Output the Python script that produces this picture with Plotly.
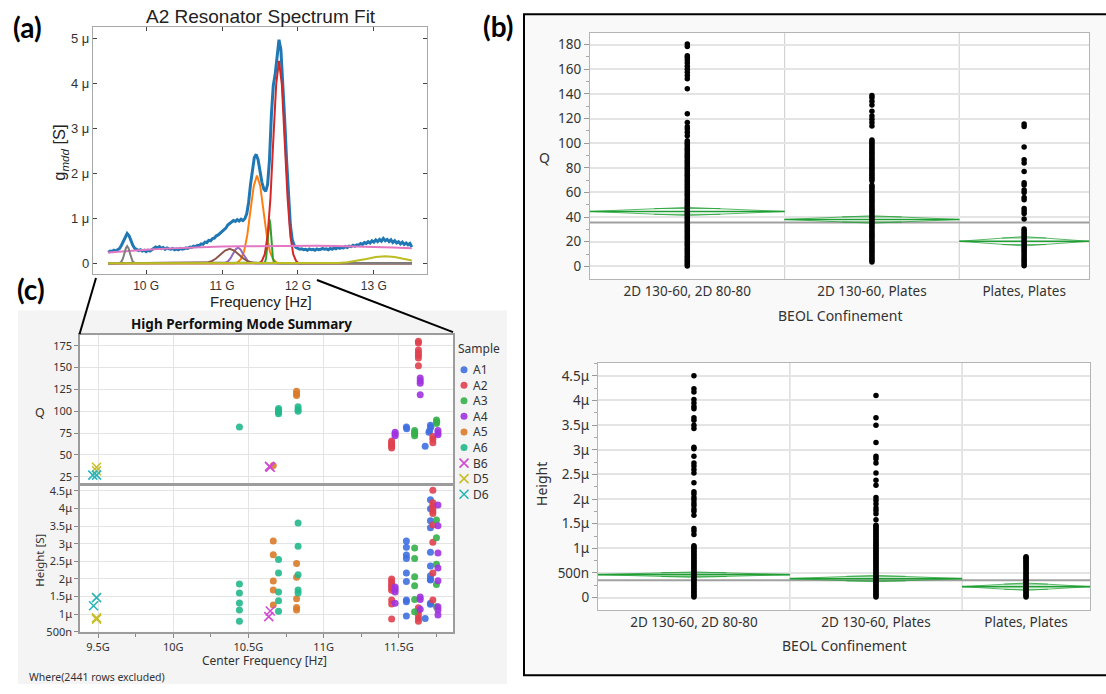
import plotly.graph_objects as go

FIG_W, FIG_H = 1106, 694


def fx(px):
    return px / FIG_W


def fy(py):
    return 1 - py / FIG_H


# ---------------- (a) A2 resonator spectrum and fit components ----------------
spec_freq_ghz = [round(9.5 + 0.025 * i, 3) for i in range(161)]
spec_g_mdd_u = [
    0.24, 0.27, 0.26, 0.29, 0.27, 0.30, 0.33, 0.40, 0.50, 0.60,
    0.66, 0.61, 0.50, 0.40, 0.33, 0.30, 0.28, 0.30, 0.27, 0.29,
    0.26, 0.29, 0.27, 0.30, 0.33, 0.36, 0.34, 0.37, 0.33, 0.35,
    0.31, 0.34, 0.32, 0.31, 0.33, 0.30, 0.32, 0.30, 0.33, 0.31,
    0.32, 0.34, 0.33, 0.36, 0.35, 0.38, 0.37, 0.40, 0.39, 0.43,
    0.42, 0.47, 0.46, 0.51, 0.50, 0.55, 0.56, 0.61, 0.63, 0.67,
    0.70, 0.75, 0.78, 0.85, 0.88, 0.92, 0.95, 0.93, 0.97, 0.94,
    0.98, 0.95, 0.99, 1.10, 1.35, 1.75, 2.10, 2.35, 2.42, 2.30,
    2.05, 1.80, 1.65, 1.60, 1.75, 2.30, 3.30, 3.95, 4.20, 4.65,
    4.97, 4.75, 4.05, 3.20, 2.30, 1.45, 0.85, 0.52, 0.40, 0.35,
    0.33, 0.31, 0.32, 0.30, 0.31, 0.29, 0.32, 0.30, 0.31, 0.29,
    0.32, 0.30, 0.31, 0.33, 0.31, 0.32, 0.30, 0.33, 0.31, 0.34,
    0.32, 0.35, 0.33, 0.35, 0.34, 0.37, 0.35, 0.38, 0.37, 0.40,
    0.38, 0.41, 0.40, 0.44, 0.42, 0.46, 0.44, 0.48, 0.45, 0.50,
    0.47, 0.52, 0.48, 0.53, 0.49, 0.55, 0.50, 0.53, 0.48, 0.52,
    0.46, 0.50, 0.45, 0.48, 0.43, 0.47, 0.42, 0.45, 0.41, 0.44,
    0.36,
]

orange_f = [9.5, 11.16, 11.205, 11.248, 11.29, 11.333, 11.375, 11.418, 11.46,
            11.503, 11.545, 11.588, 11.63, 11.673, 11.715, 11.76, 13.5]
orange_g = [0, 0, 0.02, 0.09, 0.26, 0.63, 1.18, 1.72, 1.95,
            1.72, 1.18, 0.63, 0.26, 0.09, 0.02, 0, 0]
green_f = [9.5, 11.545, 11.559, 11.57, 11.581, 11.592, 11.603, 11.614, 11.625,
           11.636, 11.647, 11.658, 11.669, 11.68, 11.691, 11.705, 13.5]
green_g = [0, 0, 0.01, 0.04, 0.13, 0.32, 0.59, 0.87, 0.98,
           0.87, 0.59, 0.32, 0.13, 0.04, 0.01, 0, 0]
red_f = [9.5, 11.49, 11.525, 11.563, 11.6, 11.638, 11.675, 11.713, 11.75,
         11.788, 11.825, 11.863, 11.9, 11.938, 11.975, 12.01, 13.5]
red_g = [0, 0, 0.05, 0.20, 0.61, 1.46, 2.73, 3.97, 4.50,
         3.97, 2.73, 1.46, 0.61, 0.20, 0.05, 0, 0]
purple_f = [9.5, 10.98, 11.015, 11.048, 11.08, 11.113, 11.145, 11.178, 11.21,
            11.243, 11.275, 11.308, 11.34, 11.373, 11.405, 11.44, 13.5]
purple_g = [0, 0, 0.004, 0.015, 0.047, 0.114, 0.212, 0.309, 0.35,
            0.309, 0.212, 0.114, 0.047, 0.015, 0.004, 0, 0]
brown_f = [9.5, 10.68, 10.74, 10.8, 10.86, 10.92, 10.98, 11.04, 11.1,
           11.16, 11.22, 11.28, 11.34, 11.4, 11.46, 11.52, 13.5]
brown_g = [0, 0, 0.004, 0.014, 0.043, 0.104, 0.194, 0.282, 0.32,
           0.282, 0.194, 0.104, 0.043, 0.014, 0.004, 0, 0]
pink_f = [9.5, 9.75, 10.0, 10.25, 10.5, 10.75, 11.0, 11.25, 11.5,
          11.75, 12.0, 12.25, 12.5, 12.75, 13.0, 13.25, 13.5]
pink_g = [0.24, 0.275, 0.30, 0.325, 0.345, 0.36, 0.37, 0.378, 0.384,
          0.388, 0.39, 0.389, 0.385, 0.378, 0.367, 0.352, 0.335]
gray_f = [9.5, 9.63, 9.645, 9.663, 9.68, 9.698, 9.715, 9.733, 9.75,
          9.768, 9.785, 9.803, 9.82, 9.838, 9.855, 9.87, 13.5]
gray_g = [0, 0, 0.004, 0.017, 0.051, 0.123, 0.23, 0.335, 0.38,
          0.335, 0.23, 0.123, 0.051, 0.017, 0.004, 0, 0]
olive_f = [9.5, 12.3, 12.4, 12.525, 12.65, 12.775, 12.9, 13.025, 13.15,
           13.275, 13.4, 13.5]
olive_g = [0, 0, 0.002, 0.007, 0.021, 0.05, 0.094, 0.137, 0.155,
           0.137, 0.094, 0.06]

fit_curves = [
    (orange_f, orange_g, "#ff7f0e"),
    (green_f, green_g, "#2ca02c"),
    (red_f, red_g, "#d62728"),
    (purple_f, purple_g, "#9467bd"),
    (brown_f, brown_g, "#8c564b"),
    (pink_f, pink_g, "#e377c2"),
    (gray_f, gray_g, "#7f7f7f"),
    (olive_f, olive_g, "#bcbd22"),
]

# ---------------- (c) high performing modes per sample ----------------
samples = ["A1", "A2", "A3", "A4", "A5", "A6", "B6", "D5", "D6"]
sample_colors = ["#3f6fe0", "#e0404f", "#35b04a", "#a033e0", "#d97a2a",
                 "#22b88c", "#d24bd2", "#c8be2c", "#2bb5b8"]
sample_symbols = ["circle"] * 6 + ["x-thin"] * 3

q_freq_ghz = {
    "A1": [11.55, 11.552, 11.675, 11.70, 11.71, 11.713, 11.705],
    "A2": [11.452, 11.452, 11.452, 11.452, 11.452, 11.63, 11.63, 11.63, 11.63,
           11.63, 11.63, 11.63, 11.726, 11.726, 11.726],
    "A3": [11.605, 11.605, 11.605, 11.605, 11.75, 11.752, 11.75],
    "A4": [11.475, 11.475, 11.475, 11.642, 11.642, 11.642, 11.642, 11.76, 11.76, 11.76],
    "A5": [10.665, 10.82, 10.82, 10.82],
    "A6": [10.44, 10.70, 10.70, 10.70, 10.70, 10.83, 10.83, 10.83],
    "B6": [10.64, 10.645],
    "D5": [9.49, 9.49],
    "D6": [9.465, 9.49],
}
q_value = {
    "A1": [82, 80, 60, 76, 84, 82, 78],
    "A2": [58, 60, 62, 64, 66, 180, 178, 170, 167, 164, 161, 152, 71, 68, 64],
    "A3": [72, 74, 76, 78, 86, 88, 90],
    "A4": [72, 74, 76, 138, 135, 132, 119, 73, 75, 78],
    "A5": [38, 118, 120, 123],
    "A6": [82, 97, 99, 101, 103, 100, 102, 105],
    "B6": [37, 36],
    "D5": [36, 32],
    "D6": [27, 27],
}
h_freq_ghz = {
    "A1": [11.55] * 9 + [11.675] + [11.71] * 11,
    "A2": [11.452] * 9 + [11.63] * 5 + [11.726] * 10,
    "A3": [11.605] * 6 + [11.75] * 5,
    "A4": [11.475] * 4 + [11.642] * 3 + [11.76] * 8,
    "A5": [10.665] * 5 + [10.82] * 5,
    "A6": [10.44] * 5 + [10.70] * 5 + [10.83] * 5,
    "B6": [10.645, 10.635],
    "D5": [9.49, 9.49],
    "D6": [9.49, 9.47],
}
h_value_u = {
    "A1": [3.08, 2.90, 2.68, 2.58, 2.17, 1.93, 1.40, 1.35, 0.95,
           0.88,
           4.25, 3.99, 3.65, 3.45, 2.76, 2.37, 2.09, 1.99, 1.97, 1.31, 1.28],
    "A2": [2.00, 1.93, 1.86, 1.80, 1.74, 1.68, 1.40, 1.29, 0.86,
           1.18, 1.08, 0.98, 0.88, 0.80,
           4.52, 4.16, 4.08, 4.00, 3.93, 3.86, 3.53, 3.04, 2.17, 1.40],
    "A3": [2.88, 2.58, 2.06, 1.81, 1.42, 1.07,
           3.67, 3.17, 2.42, 1.84, 1.21],
    "A4": [1.77, 1.70, 1.63, 1.31,
           1.49, 1.42, 1.14,
           4.10, 3.51, 2.74, 2.31, 1.95, 1.21, 1.12, 0.98],
    "A5": [3.08, 2.69, 1.94, 1.69, 1.26,
           2.44, 2.05, 1.44, 1.19, 1.12],
    "A6": [1.86, 1.60, 1.32, 1.12, 0.80,
           2.55, 2.17, 1.63, 1.38, 1.08,
           3.59, 2.93, 2.12, 1.69, 1.60],
    "B6": [1.09, 0.93],
    "D5": [0.90, 0.86],
    "D6": [1.47, 1.24],
}

# ---------------- (b) Q and height by BEOL confinement ----------------
beol_groups = ["2D 130-60, 2D 80-80", "2D 130-60, Plates", "Plates, Plates"]
group_share = [0.39, 0.35, 0.26]

beol_q = [
    [0.4, 1.5, 2.8, 4.1, 5.3, 6.9, 8.2, 9.6, 11, 12.5, 13.8, 15.2, 16.7, 18, 19.4,
     20.9, 22.3, 23.6, 25, 26.5, 27.9, 29.2, 30.7, 32.1, 33.4, 34.8, 36.3, 37.7, 39,
     40.5, 41.9, 43.2, 44.6, 46.1, 47.5, 48.8, 50.2, 51.7, 53.1, 54.4, 55.8, 57.3,
     58.6, 60, 61.5, 62.9, 64.2, 65.6, 67.1, 68.5, 69.8, 71.2, 72.7, 74, 75.4, 76.9,
     78.3, 79.6, 81, 82.5, 83.9, 85.2, 86.6, 88.1, 89.5, 90.8, 92.3, 93.7, 95, 96.4,
     97.9, 99.3, 100.6, 102, 106, 108.8, 111.5, 113.3, 116.8, 124, 144.3, 152.3, 155,
     157.6, 160, 162.5, 165, 167.5, 169.5, 171, 178.4, 180.5],
    [3.5, 5, 6.4, 7.9, 9.3, 10.8, 12.2, 13.7, 15.1, 16.6, 18, 19.5, 20.9, 22.4, 23.8,
     25.3, 26.7, 28.2, 29.6, 31.1, 32.5, 34, 35.4, 36.9, 38.3, 39.8, 41.2, 42.7, 44.1,
     45.6, 47, 48.5, 49.9, 51.4, 52.8, 54.3, 55.7, 57.2, 58.6, 60.1, 61.5, 63, 64.4,
     65.9, 69.5, 71, 72.4, 73.9, 75.3, 76.8, 78.2, 79.7, 81.1, 82.6, 84, 85.5, 86.9,
     88.4, 89.8, 91.3, 92.7, 94.2, 95.6, 97.1, 98.5, 100, 101.4, 102.7, 114, 116.8,
     119.5, 122, 126, 131, 134, 136.8, 138.7],
    [0.5, 2, 3.5, 5, 6.5, 8, 9.5, 11, 12.5, 14, 15.5, 17, 18.5, 20, 21.5, 23, 24.5,
     26, 27.5, 29, 30.3, 38.5, 43, 45, 47, 54, 56, 60, 62, 66, 68, 77, 84, 86.5, 97,
     113.5, 115.5],
]
beol_h_u = [
    [0.01, 0.04, 0.07, 0.10, 0.13, 0.16, 0.19, 0.22, 0.25, 0.28, 0.31, 0.34, 0.37,
     0.40, 0.43, 0.46, 0.49, 0.52, 0.55, 0.58, 0.61, 0.64, 0.67, 0.70, 0.73, 0.76,
     0.79, 0.82, 0.85, 0.88, 0.91, 0.94, 0.97, 1.00, 1.03, 1.05, 1.28, 1.35, 1.40,
     1.67, 1.75, 1.80, 1.87, 1.92, 1.98, 2.03, 2.10, 2.15, 2.33, 2.53, 2.60, 2.67,
     2.73, 2.87, 3.02, 3.05, 3.43, 3.50, 3.60, 3.65, 3.83, 3.88, 3.95, 4.02, 4.17,
     4.24, 4.50],
    [0.01, 0.04, 0.07, 0.10, 0.13, 0.16, 0.19, 0.22, 0.25, 0.28, 0.31, 0.34, 0.37,
     0.40, 0.43, 0.46, 0.49, 0.52, 0.55, 0.58, 0.61, 0.64, 0.67, 0.70, 0.73, 0.76,
     0.79, 0.82, 0.85, 0.88, 0.91, 0.94, 0.97, 1.00, 1.03, 1.06, 1.09, 1.12, 1.15,
     1.18, 1.21, 1.24, 1.27, 1.30, 1.33, 1.36, 1.39, 1.42, 1.45, 1.47, 1.58, 1.70,
     1.77, 1.82, 1.90, 1.97, 2.03, 2.28, 2.38, 2.53, 2.73, 2.82, 2.87, 3.15, 3.50,
     3.65, 4.10],
    [0.01, 0.04, 0.07, 0.10, 0.13, 0.16, 0.19, 0.22, 0.25, 0.28, 0.31, 0.34, 0.37,
     0.40, 0.43, 0.46, 0.49, 0.52, 0.55, 0.58, 0.61, 0.64, 0.67, 0.70, 0.73, 0.76,
     0.79, 0.81, 0.83],
]
q_group_mean = [44.6, 38.1, 20.4]
q_group_ci = [3.3, 3.0, 3.8]
q_grand_mean = 35.7
h_group_mean_u = [0.466, 0.386, 0.222]
h_group_ci_u = [0.055, 0.065, 0.075]
h_grand_mean_u = 0.35

# ---------------- styling ----------------
SEGOE = "Noto Sans"
ARIAL = "Liberation Sans"
GRID = "#e4e4e4"
FRAME = "#a8a8a8"

fig = go.Figure()

# (a) spectrum
fig.add_trace(go.Scatter(x=spec_freq_ghz, y=spec_g_mdd_u, mode="lines",
                         line=dict(color="#1f77b4", width=3),
                         xaxis="x", yaxis="y", showlegend=False, hoverinfo="skip"))
for f, g, c in fit_curves:
    fig.add_trace(go.Scatter(x=f, y=g, mode="lines", line=dict(color=c, width=2),
                             xaxis="x", yaxis="y", showlegend=False, hoverinfo="skip"))

# (c) mode summary
for name, col, sym in zip(samples, sample_colors, sample_symbols):
    if sym == "circle":
        mk = dict(color=col, size=7, symbol="circle", opacity=0.9)
    else:
        mk = dict(color=col, size=9, symbol="x-thin", line=dict(color=col, width=1.6))
    fig.add_trace(go.Scatter(x=q_freq_ghz[name], y=q_value[name], mode="markers",
                             marker=mk, xaxis="x2", yaxis="y2", showlegend=False, name=name))
    fig.add_trace(go.Scatter(x=h_freq_ghz[name], y=h_value_u[name], mode="markers",
                             marker=mk, xaxis="x3", yaxis="y3", showlegend=False, name=name))

# legend swatches for (c), drawn on a helper axis
leg_y = [372 + 15.8 * i for i in range(len(samples))]
for name, col, sym, yy in zip(samples, sample_colors, sample_symbols, leg_y):
    if sym == "circle":
        mk = dict(color=col, size=7, symbol="circle", opacity=0.9)
    else:
        mk = dict(color=col, size=9, symbol="x-thin", line=dict(color=col, width=1.6))
    fig.add_trace(go.Scatter(x=[464], y=[yy], mode="markers", marker=mk,
                             xaxis="x6", yaxis="y6", showlegend=False, hoverinfo="skip"))

# (b) group layout on a unit-wide axis
bounds = [0.0]
for s in group_share:
    bounds.append(bounds[-1] + s)
centers = [(bounds[i] + bounds[i + 1]) / 2 for i in range(3)]

DIAMOND = "rgba(34,160,52,0.75)"
MEANLINE = "#1f9e33"


def add_diamonds(xa, ya, means, cis, grand):
    fig.add_trace(go.Scatter(x=[0, 1], y=[grand, grand], mode="lines",
                             line=dict(color="#a0a0a0", width=2),
                             xaxis=xa, yaxis=ya, showlegend=False, hoverinfo="skip"))
    for i in range(3):
        L, R, C = bounds[i], bounds[i + 1], centers[i]
        m, h = means[i], cis[i]
        fig.add_trace(go.Scatter(x=[L, C, R, C, L], y=[m, m + h, m, m - h, m], mode="lines",
                                 line=dict(color=DIAMOND, width=1),
                                 xaxis=xa, yaxis=ya, showlegend=False, hoverinfo="skip"))
        fig.add_trace(go.Scatter(x=[L, R], y=[m, m], mode="lines",
                                 line=dict(color=MEANLINE, width=1.6),
                                 xaxis=xa, yaxis=ya, showlegend=False, hoverinfo="skip"))
        half = 0.17 * (R - L)
        for sgn in (1, -1):
            yo = m + sgn * h * 0.707
            fig.add_trace(go.Scatter(x=[C - half, C + half], y=[yo, yo], mode="lines",
                                     line=dict(color=DIAMOND, width=1),
                                     xaxis=xa, yaxis=ya, showlegend=False, hoverinfo="skip"))


add_diamonds("x4", "y4", q_group_mean, q_group_ci, q_grand_mean)
add_diamonds("x5", "y5", h_group_mean_u, h_group_ci_u, h_grand_mean_u)
for i in range(3):
    fig.add_trace(go.Scatter(x=[centers[i]] * len(beol_q[i]), y=beol_q[i], mode="markers",
                             marker=dict(color="black", size=5.5),
                             xaxis="x4", yaxis="y4", showlegend=False))
    fig.add_trace(go.Scatter(x=[centers[i]] * len(beol_h_u[i]), y=beol_h_u[i], mode="markers",
                             marker=dict(color="black", size=5.5),
                             xaxis="x5", yaxis="y5", showlegend=False))

# ---------------- shapes ----------------
shapes = [
    # (b) frame
    dict(type="rect", xref="paper", yref="paper", x0=fx(524), x1=fx(1130), y0=fy(682), y1=fy(11.5),
         line=dict(color="black", width=2), fillcolor="#f9f9f9", layer="below"),
    # (c) background
    dict(type="rect", xref="paper", yref="paper", x0=fx(18), x1=fx(507), y0=fy(691), y1=fy(312),
         line=dict(width=0), fillcolor="#f4f4f4", layer="below"),
    # zoom connectors from (a) to (c)
    dict(type="line", xref="paper", yref="paper", x0=fx(96), y0=fy(279), x1=fx(79.5), y1=fy(336),
         line=dict(color="black", width=2)),
    dict(type="line", xref="paper", yref="paper", x0=fx(317), y0=fy(281), x1=fx(453), y1=fy(334),
         line=dict(color="black", width=2)),
]
for ax in ["x2", "x3", "x4", "x5"]:
    ya = "y" + ax[1:]
    shapes.append(dict(type="rect", xref=ax + " domain", yref=ya + " domain", x0=0, x1=1, y0=0, y1=1,
                       line=dict(width=0), fillcolor="white", layer="below"))
for ax in ["x4", "x5"]:
    ya = "y" + ax[1:]
    for b in bounds[1:3]:
        shapes.append(dict(type="line", xref=ax, yref=ya + " domain", x0=b, x1=b, y0=0, y1=1,
                           line=dict(color="#d4d4d4", width=1.2), layer="below"))


# ---------------- annotations ----------------
def ann(text, x, y, size, family=SEGOE, color="#222", bold=False, angle=0, xanchor="center",
        yanchor="middle"):
    if bold:
        text = "<b>" + text + "</b>"
    return dict(text=text, x=fx(x), y=fy(y), xref="paper", yref="paper", showarrow=False,
                font=dict(size=size, family=family, color=color), textangle=angle,
                xanchor=xanchor, yanchor=yanchor)


annotations = [
    ann("(a)", 27, 24, 28, family="Lato", color="black", bold=True),
    ann("(b)", 498, 23, 28, family="Lato", color="black", bold=True),
    ann("(c)", 31, 290, 28, family="Lato", color="black", bold=True),
    ann("A2 Resonator Spectrum Fit", 261, 14, 19, family=ARIAL, color="#222"),
    ann("Frequency [Hz]", 261, 302.5, 15, family=ARIAL, color="#222"),
    ann("g<sub><i>mdd</i></sub> [S]", 60, 152, 16.5, family=ARIAL, color="#222", angle=-90),
    ann("High Performing Mode Summary", 241, 326, 13.5, bold=True, color="#111"),
    ann("Q", 40, 415, 12.5, color="#333"),
    ann("Height [S]", 40, 566, 11.5, color="#333", angle=-90),
    ann("Center Frequency [Hz]", 264, 667, 12, color="#333"),
    ann("Where(2441 rows excluded)", 27, 684, 10.5, color="#333", xanchor="left"),
    ann("Sample", 456, 351, 12, color="#333", xanchor="left"),
    ann("Q", 544, 157, 14, color="#333"),
    ann("BEOL Confinement", 840, 317, 14, color="#333"),
    ann("Height", 542, 488, 14, color="#333", angle=-90),
    ann("BEOL Confinement", 844, 652, 14, color="#333"),
]
for name, yy in zip(samples, leg_y):
    annotations.append(dict(text=name, x=471, y=yy, xref="x6", yref="y6", showarrow=False,
                            xanchor="left", yanchor="middle",
                            font=dict(size=12, family=SEGOE, color="#333")))

# ---------------- axes ----------------
a_font = dict(family=ARIAL, size=12, color="#333")
c_font = dict(family=SEGOE, size=11, color="#333")
b_font = dict(family=SEGOE, size=13.5, color="#333")

layout_axes = dict(
    xaxis=dict(domain=[fx(93), fx(427)], range=[9.3, 13.7], anchor="y",
               tickvals=[10, 11, 12, 13], ticktext=["10 G", "11 G", "12 G", "13 G"],
               ticks="inside", ticklen=4, tickcolor="#444", showline=True, linecolor=FRAME,
               linewidth=1.2, mirror="ticks", showgrid=False, zeroline=False, tickfont=a_font),
    yaxis=dict(domain=[fy(275), fy(24)], range=[-0.24, 5.26], anchor="x",
               tickvals=[0, 1, 2, 3, 4, 5], ticktext=["0", "1 μ", "2 μ", "3 μ", "4 μ", "5 μ"],
               ticks="inside", ticklen=4, tickcolor="#444", showline=True, linecolor=FRAME,
               linewidth=1.2, mirror="ticks", showgrid=False, zeroline=False,
               tickfont=dict(family=ARIAL, size=13, color="#333")),
    xaxis2=dict(domain=[fx(80), fx(453)], range=[9.38, 11.86], anchor="y2", matches="x3",
                tickvals=[9.5, 10, 10.5, 11, 11.5], showticklabels=False, ticks="",
                showgrid=True, gridcolor=GRID, gridwidth=1.3, showline=True, linecolor="#9c9c9c",
                linewidth=1.5, mirror=True, zeroline=False),
    yaxis2=dict(domain=[fy(487), fy(337)], range=[18, 187], anchor="x2",
                tickvals=[25, 50, 75, 100, 125, 150, 175], ticks="outside", ticklen=4,
                tickcolor="#888", showgrid=True, gridcolor=GRID, gridwidth=1.3, showline=True,
                linecolor="#9c9c9c", linewidth=1.5, mirror=True, zeroline=False, tickfont=c_font),
    xaxis3=dict(domain=[fx(80), fx(453)], range=[9.38, 11.86], anchor="y3",
                tickvals=[9.5, 10, 10.5, 11, 11.5], ticktext=["9.5G", "10G", "10.5G", "11G", "11.5G"],
                ticks="outside", ticklen=4, tickcolor="#888",
                minor=dict(tickvals=[9.75, 10.25, 10.75, 11.25, 11.75], ticks="outside",
                           ticklen=3, tickcolor="#888", showgrid=False),
                showgrid=True, gridcolor=GRID, gridwidth=1.3, showline=True, linecolor="#9c9c9c",
                linewidth=1.5, mirror=True, zeroline=False, tickfont=c_font),
    yaxis3=dict(domain=[fy(638), fy(490)], range=[0.5, 4.64], anchor="x3",
                tickvals=[0.5, 1, 1.5, 2, 2.5, 3, 3.5, 4, 4.5],
                ticktext=["500n", "1μ", "1.5μ", "2μ", "2.5μ", "3μ", "3.5μ", "4μ", "4.5μ"],
                ticks="outside", ticklen=4, tickcolor="#888", showgrid=True, gridcolor=GRID,
                gridwidth=1.3, showline=True, linecolor="#9c9c9c", linewidth=1.5, mirror=True,
                zeroline=False, tickfont=c_font),
    xaxis4=dict(domain=[fx(590), fx(1089)], range=[0, 1], anchor="y4",
                tickvals=centers, ticktext=beol_groups, ticks="", showgrid=False,
                showline=True, linecolor="#b4b4b4", linewidth=1.3, mirror=True, zeroline=False,
                tickfont=b_font),
    yaxis4=dict(domain=[fy(280), fy(30)], range=[-10.2, 189.8], anchor="x4",
                tickvals=list(range(0, 181, 20)), ticks="outside", ticklen=5, tickcolor="#999",
                minor=dict(tickvals=list(range(10, 190, 20)), ticks="outside", ticklen=3,
                           tickcolor="#aaa", showgrid=False),
                showgrid=True, gridcolor=GRID, gridwidth=1.5, showline=True, linecolor="#b4b4b4",
                linewidth=1.3, mirror=True, zeroline=False, tickfont=b_font),
    xaxis5=dict(domain=[fx(598), fx(1090)], range=[0, 1], anchor="y5",
                tickvals=centers, ticktext=beol_groups, ticks="", showgrid=False,
                showline=True, linecolor="#b4b4b4", linewidth=1.3, mirror=True, zeroline=False,
                tickfont=b_font),
    yaxis5=dict(domain=[fy(615.7), fy(365)], range=[-0.248, 4.766], anchor="x5",
                tickvals=[0, 0.5, 1, 1.5, 2, 2.5, 3, 3.5, 4, 4.5],
                ticktext=["0", "500n", "1μ", "1.5μ", "2μ", "2.5μ", "3μ", "3.5μ", "4μ", "4.5μ"],
                ticks="outside", ticklen=5, tickcolor="#999",
                minor=dict(tickvals=[0.25, 0.75, 1.25, 1.75, 2.25, 2.75, 3.25, 3.75, 4.25, 4.75],
                           ticks="outside", ticklen=3, tickcolor="#aaa", showgrid=False),
                showgrid=True, gridcolor=GRID, gridwidth=1.5, showline=True, linecolor="#b4b4b4",
                linewidth=1.3, mirror=True, zeroline=False, tickfont=b_font),
    xaxis6=dict(domain=[fx(455), fx(506)], range=[455, 506], anchor="y6", visible=False,
                fixedrange=True),
    yaxis6=dict(domain=[fy(505), fy(340)], range=[505, 340], anchor="x6", visible=False,
                fixedrange=True),
)

fig.update_layout(
    width=FIG_W, height=FIG_H, margin=dict(l=0, r=0, t=0, b=0),
    paper_bgcolor="white", plot_bgcolor="white", showlegend=False,
    shapes=shapes, annotations=annotations, **layout_axes,
)

fig.write_html("out.html")
